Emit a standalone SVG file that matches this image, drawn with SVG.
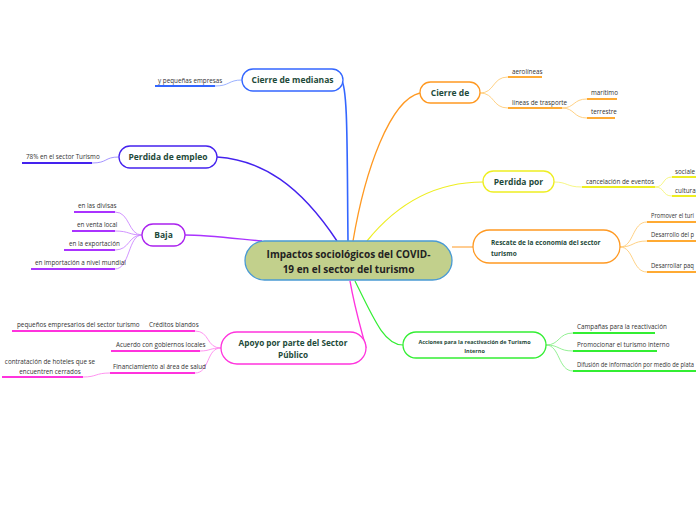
<svg xmlns="http://www.w3.org/2000/svg" width="696" height="520" viewBox="0 0 696 520">
<style>
.nl{font-family:"Open Sans","Liberation Sans",sans-serif;font-weight:bold;fill:#1e4a3a;text-anchor:middle}
.nls{font-family:"Open Sans","Liberation Sans",sans-serif;font-weight:bold;fill:#1e4a3a}
.ct{font-family:"Open Sans","Liberation Sans",sans-serif;font-size:6.3px;fill:#333}
.nb{fill:#fff;stroke-width:1.3}
.c{fill:none}
</style>
<rect width="696" height="520" fill="#fff"/>
<g id="connectors">
  <path class="c" d="M348,241 C347,150 348,85 341,80" stroke="#3366ff" stroke-width="1.6"/>
  <path class="c" d="M337,241 C300,185 262,160 217,157" stroke="#4422ee" stroke-width="1.4"/>
  <path class="c" d="M262,241 C230,238 205,235 185,235" stroke="#aa33ff" stroke-width="1.4"/>
  <path class="c" d="M350,281 C355,310 362,332 366,348" stroke="#ff33dd" stroke-width="1.4"/>
  <path class="c" d="M355,281 C375,322 385,345 403,345" stroke="#33ee33" stroke-width="1.2"/>
  <path class="c" d="M353,241 C365,170 390,100 420,93" stroke="#ff9922" stroke-width="1.3"/>
  <path class="c" d="M367,241 C400,200 440,182 483,182" stroke="#eeee22" stroke-width="1.2"/>
  <path class="c" d="M452,247 L473,247" stroke="#ff9922" stroke-width="1"/>
  <g stroke="#8fa8ff" stroke-width="0.9" fill="none"><path d="M215,86 C230,86 228,80 242,80"/></g>
  <g stroke="#9a88ff" stroke-width="0.9" fill="none"><path d="M92,163 C108,163 104,157 119,157"/></g>
  <g stroke="#cc88ff" stroke-width="0.9" fill="none">
    <path d="M115,212 C130,212 128,235 142,235"/>
    <path d="M115,231 C130,231 128,235 142,235"/>
    <path d="M115,250 C130,250 128,235 142,235"/>
    <path d="M115,269 C130,269 128,235 142,235"/>
  </g>
  <g stroke="#ff88ee" stroke-width="0.9" fill="none">
    <path d="M195,331 C210,331 206,348 221,348"/>
    <path d="M200,351 C210,351 210,348 221,348"/>
    <path d="M195,373 C210,373 206,348 221,348"/>
    <path d="M83,377 C97,377 95,373 110,373"/>
  </g>
  <g stroke="#ffcc77" stroke-width="0.9" fill="none">
    <path d="M480,93 C495,93 492,77 508,77"/>
    <path d="M480,93 C495,93 492,108 508,108"/>
    <path d="M562,108 C575,108 573,99 587,99"/>
    <path d="M562,108 C575,108 573,118 587,118"/>
    <path d="M620,247 C634,247 632,222 647,222"/>
    <path d="M620,247 C634,247 632,241 647,241"/>
    <path d="M620,247 C634,247 632,272 647,272"/>
  </g>
  <g stroke="#f5f577" stroke-width="0.9" fill="none">
    <path d="M554,182 C568,182 566,187 582,187"/>
    <path d="M655,187 C665,187 662,177 672,177"/>
    <path d="M655,187 C665,187 662,196 672,196"/>
  </g>
  <g stroke="#88ee88" stroke-width="0.9" fill="none">
    <path d="M546,345 C560,345 558,333 573,333"/>
    <path d="M546,345 C560,345 558,351 573,351"/>
    <path d="M546,345 C560,345 558,371 573,371"/>
  </g>
  <g stroke-width="1.8" fill="none">
    <path d="M155,86 L215,86" stroke="#3366ff"/>
    <path d="M22,163 L92,163" stroke="#4422ee"/>
    <path d="M74,212 L115,212 M72,231 L115,231 M64,250 L115,250 M31,269 L115,269" stroke="#aa33ff"/>
    <path d="M145,331 L195,331 M12,331 L145,331 M111,351 L200,351 M110,373 L195,373 M2,377 L83,377" stroke="#ff33dd"/>
    <path d="M508,77 L542,77 M508,108 L562,108 M587,99 L617,99 M587,118 L615,118" stroke="#ffaa33"/>
    <path d="M647,222 L696,222 M647,241 L696,241 M647,272 L696,272" stroke="#ffaa33"/>
    <path d="M582,187 L655,187 M672,177 L696,177 M672,196 L696,196" stroke="#eeee22"/>
    <path d="M573,333 L655,333 M573,351 L657,351 M573,371 L696,371" stroke="#33ee33"/>
  </g>
</g>
<g id="central">
  <rect x="245" y="241" width="207" height="39" rx="19.5" fill="#c2d08c" stroke="#4a9ad4" stroke-width="1.3"/>
  <text x="348.5" y="258" font-family="Open Sans, Liberation Sans, sans-serif" font-size="10" font-weight="bold" fill="#222" text-anchor="middle">Impactos sociológicos del COVID-</text>
  <text x="348.5" y="273" font-family="Open Sans, Liberation Sans, sans-serif" font-size="10" font-weight="bold" fill="#222" text-anchor="middle">19 en el sector del turismo</text>
</g>
<g id="n-cierre-medianas">
  <rect class="nb" x="242" y="69" width="101" height="22" rx="11" stroke="#3366ff"/>
  <text class="nl" x="292.5" y="83" font-size="8.5">Cierre de medianas</text>
  <text class="ct" x="158" y="83">y pequeñas empresas</text>
</g>
<g id="n-perdida-empleo">
  <rect class="nb" x="119" y="146" width="98" height="22" rx="11" stroke="#4422ee"/>
  <text class="nl" x="168" y="160" font-size="8.5">Perdida de empleo</text>
  <text class="ct" x="26" y="159">78% en el sector Turismo</text>
</g>
<g id="n-baja">
  <rect class="nb" x="142" y="224" width="43" height="22" rx="11" stroke="#aa22ee"/>
  <text class="nl" x="163.5" y="238" font-size="8.5">Baja</text>
  <text class="ct" x="78" y="208">en las divisas</text>
  <text class="ct" x="77" y="227">en venta local</text>
  <text class="ct" x="69" y="246">en la exportación</text>
  <text class="ct" x="35" y="265">en importación a nivel mundial</text>
</g>
<g id="n-apoyo">
  <rect class="nb" x="221" y="332" width="145" height="32" rx="16" stroke="#ff33dd"/>
  <text class="nl" x="293" y="346" font-size="8.2">Apoyo por parte del Sector</text>
  <text class="nl" x="293" y="358" font-size="8.2">Público</text>
  <text class="ct" x="149" y="327">Créditos blandos</text>
  <text class="ct" x="17" y="327">pequeños empresarios del sector turismo</text>
  <text class="ct" x="116" y="347">Acuerdo con gobiernos locales</text>
  <text class="ct" x="113" y="369">Financiamiento al área de salud</text>
  <text class="ct" x="50" y="364" text-anchor="middle">contratación de hoteles que se</text>
  <text class="ct" x="50" y="374" text-anchor="middle">encuentren cerrados</text>
</g>
<g id="n-cierre-de">
  <rect class="nb" x="420" y="82" width="60" height="21" rx="10.5" stroke="#ff9922"/>
  <text class="nl" x="450" y="96" font-size="8.5">Cierre de</text>
  <text class="ct" x="512" y="74">aerolíneas</text>
  <text class="ct" x="512" y="105">líneas de trasporte</text>
  <text class="ct" x="591" y="95">marítimo</text>
  <text class="ct" x="591" y="114">terrestre</text>
</g>
<g id="n-perdida-por">
  <rect class="nb" x="483" y="171" width="71" height="21" rx="10.5" stroke="#eeee22"/>
  <text class="nl" x="518.5" y="185" font-size="8.5">Perdida por</text>
  <text class="ct" x="586" y="184">cancelación de eventos</text>
  <text class="ct" x="675" y="174">sociale</text>
  <text class="ct" x="675" y="193">cultura</text>
</g>
<g id="n-rescate">
  <rect class="nb" x="473" y="230" width="147" height="33" rx="16.5" stroke="#ff9922"/>
  <text class="nls" x="491" y="245" font-size="6.5">Rescate de la economía del sector</text>
  <text class="nls" x="491" y="256" font-size="6.5">turismo</text>
  <text class="ct" x="651" y="218" textLength="43" lengthAdjust="spacingAndGlyphs">Promover el turi</text>
  <text class="ct" x="651" y="237" textLength="43" lengthAdjust="spacingAndGlyphs">Desarrollo del p</text>
  <text class="ct" x="651" y="268" textLength="43" lengthAdjust="spacingAndGlyphs">Desarrollar paq</text>
</g>
<g id="n-acciones">
  <rect class="nb" x="403" y="332" width="143" height="26" rx="13" stroke="#33ee33"/>
  <text class="nl" x="474.5" y="344" font-size="5.5">Acciones para la reactivación de Turismo</text>
  <text class="nl" x="474.5" y="353" font-size="5.5">Interno</text>
  <text class="ct" x="577" y="329">Campañas para la reactivación</text>
  <text class="ct" x="577" y="347">Promocionar el turismo interno</text>
  <text class="ct" x="577" y="367" textLength="117" lengthAdjust="spacingAndGlyphs">Difusión de información por medio de plata</text>
</g>
</svg>
